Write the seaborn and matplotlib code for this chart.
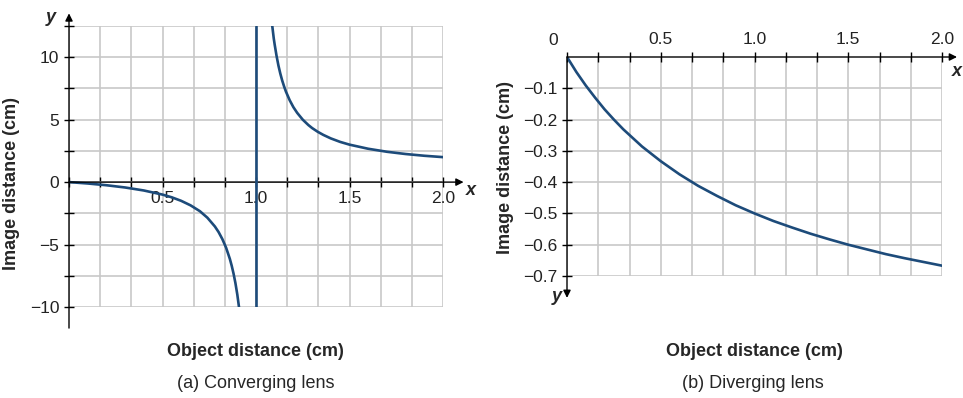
import numpy as np
import pandas as pd
import seaborn as sns
import matplotlib.pyplot as plt
from matplotlib.ticker import MultipleLocator, FixedLocator, FuncFormatter

# (a) converging lens
conv_left_x = [0.0, 0.1, 0.2, 0.3, 0.4, 0.5, 0.55, 0.6, 0.65, 0.7, 0.74, 0.78, 0.8, 0.82,
               0.84, 0.86, 0.87, 0.88, 0.89, 0.9, 0.909]
conv_left_y = [0.0, -0.11, -0.25, -0.43, -0.67, -1.0, -1.22, -1.5, -1.86, -2.33, -2.85, -3.55,
               -4.0, -4.56, -5.25, -6.14, -6.69, -7.33, -8.09, -9.0, -10.0]
conv_right_x = [1.087, 1.095, 1.1, 1.11, 1.12, 1.13, 1.14, 1.15, 1.16, 1.18, 1.2, 1.22, 1.25,
                1.28, 1.3, 1.33, 1.36, 1.4, 1.45, 1.5, 1.6, 1.7, 1.8, 1.9, 2.0]
conv_right_y = [12.5, 11.5, 11.0, 10.1, 9.33, 8.69, 8.14, 7.67, 7.25, 6.56, 6.0, 5.55, 5.0,
                4.57, 4.33, 4.03, 3.78, 3.5, 3.22, 3.0, 2.67, 2.43, 2.25, 2.11, 2.0]
asymptote_x = [1.0, 1.0]
asymptote_y = [-10.0, 12.5]

# (b) diverging lens
div_x = [0.0, 0.05, 0.1, 0.15, 0.2, 0.25, 0.3, 0.4, 0.5, 0.6, 0.7, 0.8, 0.9, 1.0, 1.1, 1.2,
         1.3, 1.4, 1.5, 1.6, 1.7, 1.8, 1.9, 2.0]
div_y = [0.0, -0.048, -0.091, -0.13, -0.167, -0.2, -0.231, -0.286, -0.333, -0.375, -0.412,
         -0.444, -0.474, -0.5, -0.524, -0.545, -0.565, -0.583, -0.6, -0.615, -0.63, -0.643,
         -0.655, -0.667]

x_major = [0.5, 1.0, 1.5, 2.0]
x_minor = [i / 6 for i in range(13)]

line_color = '#1d4b7a'
grid_color = '#c8c8c8'

sns.set_style('white')
plt.rcParams['font.family'] = ['Liberation Sans', 'DejaVu Sans']

fig = plt.figure(figsize=(9.63, 3.98), dpi=100)
W, H = 963, 398


def px_axes(x0, x1, ytop, ybot):
    return fig.add_axes([x0 / W, 1 - ybot / H, (x1 - x0) / W, (ybot - ytop) / H])


def arrow(ax, start, end):
    ax.annotate('', xy=end, xytext=start, xycoords='axes fraction',
                textcoords='axes fraction', annotation_clip=False,
                arrowprops=dict(arrowstyle='-|>', color='black', lw=1.0,
                                mutation_scale=11, shrinkA=0, shrinkB=0))


def curve(ax, xs, ys, z=3):
    sns.lineplot(x=xs, y=ys, color=line_color, lw=1.9, ax=ax, sort=False,
                 estimator=None, zorder=z)


def style_common(ax):
    for s in ax.spines.values():
        s.set_visible(False)
    ax.grid(which='both', color=grid_color, lw=1.2, zorder=0)
    ax.set_axisbelow(True)
    ax.tick_params(which='both', direction='inout', length=7, width=1, color='black',
                   labelsize=12.5, labelcolor='#222222', left=True)
    ax.set_xlabel('')
    ax.set_ylabel('')


# ---------- (a) ----------
ax1 = px_axes(69, 443, 26, 307)
curve(ax1, conv_left_x, conv_left_y)
curve(ax1, conv_right_x, conv_right_y)
curve(ax1, asymptote_x, asymptote_y, z=5)
ax1.set_xlim(0, 2.0)
ax1.set_ylim(-10, 12.5)
ax1.spines['bottom'].set_position(('data', 0))
ax1.spines['left'].set_position(('data', 0))
ax1.xaxis.set_major_locator(FixedLocator(x_major))
ax1.xaxis.set_minor_locator(FixedLocator(x_minor))
ax1.xaxis.set_major_formatter(FuncFormatter(lambda v, p: f'{v:.1f}'))
ax1.yaxis.set_major_locator(MultipleLocator(5))
ax1.yaxis.set_minor_locator(MultipleLocator(2.5))
ax1.yaxis.set_major_formatter(FuncFormatter(lambda v, p: f'{v:.0f}'.replace('-', '\u2212')))
style_common(ax1)
ax1.tick_params(axis='x', which='both', pad=3, bottom=True)
arrow(ax1, (0, -0.075), (0, 1.045))
arrow(ax1, (0, 10 / 22.5), (1.055, 10 / 22.5))
ax1.text(-0.035, 1.03, 'y', transform=ax1.transAxes, fontsize=13, fontweight='bold',
         style='italic', ha='right', va='center')
ax1.text(1.06, 10 / 22.5 - 0.03, 'x', transform=ax1.transAxes, fontsize=13,
         fontweight='bold', style='italic', ha='left', va='center')

# ---------- (b) ----------
ax2 = px_axes(567, 942, 57, 276)
curve(ax2, div_x, div_y)
ax2.set_xlim(0, 2.0)
ax2.set_ylim(-0.7, 0)
ax2.xaxis.tick_top()
ax2.xaxis.set_major_locator(FixedLocator(x_major))
ax2.xaxis.set_minor_locator(FixedLocator(x_minor))
ax2.xaxis.set_major_formatter(FuncFormatter(lambda v, p: f'{v:.1f}'))
ax2.yaxis.set_major_locator(FixedLocator([-0.1 * i for i in range(1, 8)]))
ax2.yaxis.set_major_formatter(FuncFormatter(lambda v, p: f'{v:.1f}'.replace('-', '\u2212')))
style_common(ax2)
ax2.tick_params(axis='x', which='both', pad=4, top=True, bottom=False)
arrow(ax2, (0, 1), (0, -0.1))
arrow(ax2, (0, 1), (1.04, 1))
ax2.text(-0.025, 1.04, '0', transform=ax2.transAxes, fontsize=12.5, color='#222222',
         ha='right', va='bottom')
ax2.text(-0.015, -0.095, 'y', transform=ax2.transAxes, fontsize=13, fontweight='bold',
         style='italic', ha='right', va='center')
ax2.text(1.04, 0.935, 'x', transform=ax2.transAxes, fontsize=13, fontweight='bold',
         style='italic', ha='center', va='center')

# ---------- labels ----------
fig.text(12 / W, 1 - 183 / H, 'Image distance (cm)', rotation=90, fontsize=13,
         fontweight='bold', ha='center', va='center')
fig.text(505 / W, 1 - 167 / H, 'Image distance (cm)', rotation=90, fontsize=13,
         fontweight='bold', ha='center', va='center')
fig.text(255 / W, 1 - 352 / H, 'Object distance (cm)', fontsize=13, fontweight='bold',
         ha='center', va='center')
fig.text(754 / W, 1 - 352 / H, 'Object distance (cm)', fontsize=13, fontweight='bold',
         ha='center', va='center')
fig.text(256 / W, 1 - 383 / H, '(a) Converging lens', fontsize=13, ha='center', va='center')
fig.text(753 / W, 1 - 383 / H, '(b) Diverging lens', fontsize=13, ha='center', va='center')

fig.savefig('out.png', dpi=100)
